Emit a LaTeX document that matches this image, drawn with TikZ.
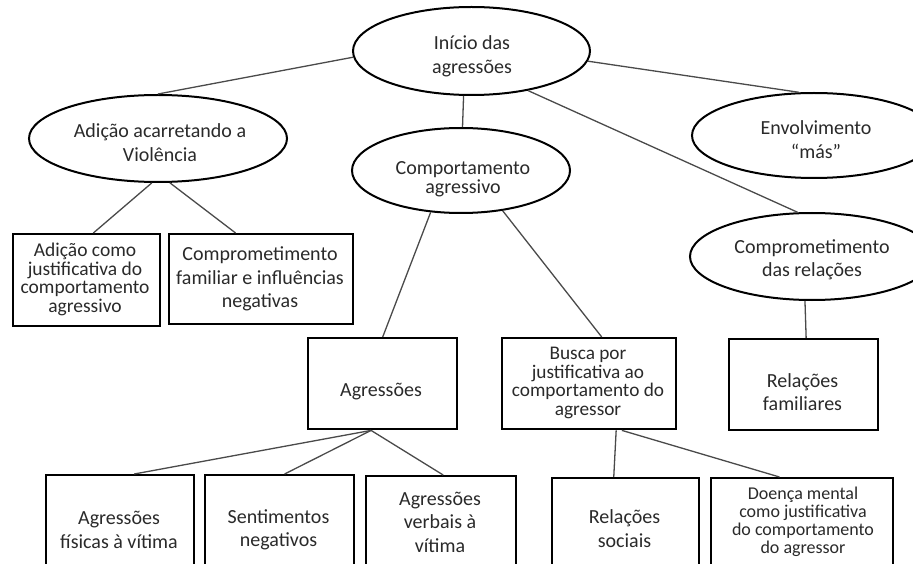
\documentclass[tikz,border=0pt]{standalone}
\usepackage{fontspec}
\setmainfont{Carlito}
\usetikzlibrary{shapes.geometric}
\definecolor{ink}{HTML}{2A2A2A}
\definecolor{wire}{HTML}{4A4A4A}
\begin{document}
\begin{tikzpicture}[x=1pt,y=-1pt,
  oval/.style={draw=black, line width=2pt, ellipse, inner sep=0pt},
  card/.style={draw=black, line width=2.4pt, rectangle, inner sep=0pt, anchor=north west},
  lbl/.style={text=ink, align=center, inner sep=0pt, font=\fontsize{20}{23.5}\selectfont},
  snug/.style={font=\fontsize{20}{19}\selectfont},
  dense/.style={font=\fontsize{19.5}{18.5}\selectfont},
  packed/.style={font=\fontsize{19.3}{18.5}\selectfont},
  small/.style={font=\fontsize{18}{18}\selectfont},
  link/.style={draw=wire, line width=1.3pt}]

% page frame; the lowest row of boxes runs off the bottom edge
\path[use as bounding box, fill=white] (0,0) rectangle (913,564);
\clip (0,0) rectangle (913,564);

% ellipses
\node[oval, minimum width=237, minimum height=88] (top)   at (471.5,51)  {};
\node[oval, minimum width=258, minimum height=87] (adic)  at (158,138.5) {};
\node[oval, minimum width=244, minimum height=85] (envol) at (814,135.5) {};
\node[oval, minimum width=218, minimum height=85] (comp)  at (461,170.5) {};
\node[oval, minimum width=244, minimum height=87] (crel)  at (812,256.5) {};

% boxes, second row
\node[card, minimum width=147, minimum height=92] (badj)  at (12,233)  {};
\node[card, minimum width=184, minimum height=90] (bcfam) at (168,233) {};

% boxes, third row
\node[card, minimum width=149, minimum height=91] (agr)    at (307,337) {};
\node[card, minimum width=174, minimum height=91] (busca)  at (501,337) {};
\node[card, minimum width=149, minimum height=91] (relfam) at (728,338) {};

% boxes, bottom row
\node[card, minimum width=148, minimum height=110] (bfis)    at (45,474)  {};
\node[card, minimum width=149, minimum height=110] (bsent)   at (204,474) {};
\node[card, minimum width=150, minimum height=110] (bverb)   at (365,475) {};
\node[card, minimum width=147, minimum height=110] (bsoc)    at (551,477) {};
\node[card, minimum width=182, minimum height=110] (bdoenca) at (710,477) {};

% connectors
\draw[link] (top.183)  -- (adic.north);
\draw[link] (top.-5)   -- (envol.109);
\draw[link] (top.260)  -- (comp.88);
\draw[link] (top.-35)  -- (crel.108);
\draw[link] (adic.262) -- (badj.82);
\draw[link] (adic.285) -- (bcfam.119);
\draw[link] (comp.234) -- (agr.north);
\draw[link] (comp.-44) -- (busca.75);
\draw[link] (crel.261) -- (relfam.87);
\draw[link] (agr.256)  -- (bfis.76);
\draw[link] (agr.256)  -- (bsent.85);
\draw[link] (agr.256)  -- (bverb.88);
\draw[link] (busca.-60) -- (bsoc.102);
\draw[link] (busca.-55) -- (bdoenca.112);

% texts
\node[lbl] (t-top)   at (472,56.5)  {Início das\\agressões};
\node[lbl] (t-adic)  at (160,142.5) {Adição acarretando a\\Violência};
\node[lbl] (t-envol) at (816,139.5) {Envolvimento\\“más”};
\node[lbl, snug] (t-comp) at (463,179.5) {Comportamento\\agressivo};
\node[lbl] (t-crel)  at (812,260)   {Comprometimento\\das relações};
\node[lbl, dense] (t-badj) at (85,279.5) {Adição como\\justificativa do\\comportamento\\agressivo};
\node[lbl] (t-bcfam) at (260,279)   {Comprometimento\\familiar e influências\\negativas};
\node[lbl] (t-agr)   at (381,391.5) {Agressões};
\node[lbl, packed] (t-busca) at (588,383) {Busca por\\justificativa ao\\comportamento do\\agressor};
\node[lbl] (t-relfam) at (802.5,392) {Relações\\familiares};
\node[lbl] (t-bfis)  at (119,530)   {Agressões\\físicas à vítima};
\node[lbl] (t-bsent) at (278.5,530) {Sentimentos\\negativos};
\node[lbl] (t-bverb) at (440,522)   {Agressões\\verbais à\\vítima};
\node[lbl] (t-bsoc)  at (624.5,528.5) {Relações\\sociais};
\node[lbl, small] (t-bdoenca) at (803,521.5) {Doença mental\\como justificativa\\do comportamento\\do agressor};
\end{tikzpicture}
\end{document}
